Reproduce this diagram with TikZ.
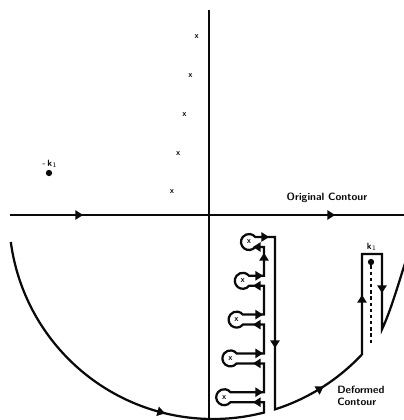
\documentclass[tikz,border=0pt]{standalone}
\usetikzlibrary{arrows.meta, shapes.geometric}
\definecolor{ink}{HTML}{0A0A0A}

\begin{document}
\begin{tikzpicture}[
    x=0.25mm, y=0.25mm,
    every node/.style={font=\sffamily\bfseries},
    lab/.style={font=\sffamily\bfseries\fontsize{7.5}{9}\selectfont, text=ink, inner sep=0pt},
    pole/.style={font=\sffamily\bfseries\fontsize{6}{6}\selectfont, text=ink, inner sep=0pt},
    axisline/.style={line width=1.8pt, draw=ink},
    cont/.style={line width=1.6pt, draw=ink, line join=miter},
    cut/.style={line width=1.5pt, draw=ink, dash pattern=on 2.4pt off 2pt},
    dot/.style={circle, fill=ink, inner sep=0pt, minimum size=4.5pt},
    arrowmark/.style={isosceles triangle, isosceles triangle apex angle=65,
                      fill=ink, inner sep=0pt, minimum size=5.5pt},
]
\useasboundingbox (-209,-205) rectangle (195,215);

% ================================================================ axes
\coordinate (west)  at (-199,0);
\coordinate (east)  at (195,0);
\coordinate (north) at (0,205);
\coordinate (south) at (0,-205);
\draw[axisline] (west) -- (east);
\draw[axisline] (north) -- (south);
\node[lab, anchor=south] (orig) at (118,12) {Original Contour};

% the poles, above and mirrored below
\foreach \k in {0,...,4}{
  \node[pole] (up\k) at ({-37+6.2*\k},{23+38.8*\k}) {x};
  \node[pole] (lo\k) at ({40-6.2*\k},{-27-38.8*\k}) {x};
}

% branch points
\node[dot] (mk) at (-160,42) {};
\node[lab, font=\sffamily\bfseries\fontsize{6.5}{6.5}\selectfont, anchor=south] (mkl) at (-159,47) {-\,k$_1$};
\node[dot] (pk) at (162,-47) {};
\node[lab, font=\sffamily\bfseries\fontsize{6.5}{6.5}\selectfont, anchor=south] (pkl) at (163,-36) {k$_1$};
\coordinate (cutend) at (162,-130);
\draw[cut] (pk) -- (cutend);

% ================================================================ deformed contour
\draw[cont] (-198.2,-27) arc[start angle=187.6, end angle=284.48, radius=204]
    foreach \k in {4,3,2,1,0}{
      -- (55,{-32-38.8*\k}) -- ({46.24-6.2*\k},{-32-38.8*\k})
      arc[start angle=-38.7, end angle=-321.3, radius=8]
      -- (55,{-22-38.8*\k})
    }
    -- (66,-22) -- (66,-194.35) arc[start angle=287.69, end angle=316.9, radius=204]
    -- (153,-39) -- (173,-39) -- (173,-114.3)
    .. controls (182,-95) and (189,-70) .. (198,-42);
\node[lab, anchor=west, align=left] (defl) at (128,-181) {Deformed\\Contour};

% direction marks along both contours
\foreach \x/\y/\a [count=\i] in {-131/0/0, 121/0/0, -48.8/-197/345, 110.3/-174.1/31.4,
    66/-128/270, 153/-85/90, 173/-73/270, 55/-43/90}{
  \node[arrowmark, rotate=\a] (m\i) at (\x,\y) {};
}
\foreach \k in {0,...,4}{
  \node[arrowmark, rotate=0]   (t\k) at ({\k==0 ? 55 : 49},{-22-38.8*\k}) {};
  \node[arrowmark, rotate=180] (b\k) at (49,{-32-38.8*\k}) {};
}
\end{tikzpicture}
\end{document}
